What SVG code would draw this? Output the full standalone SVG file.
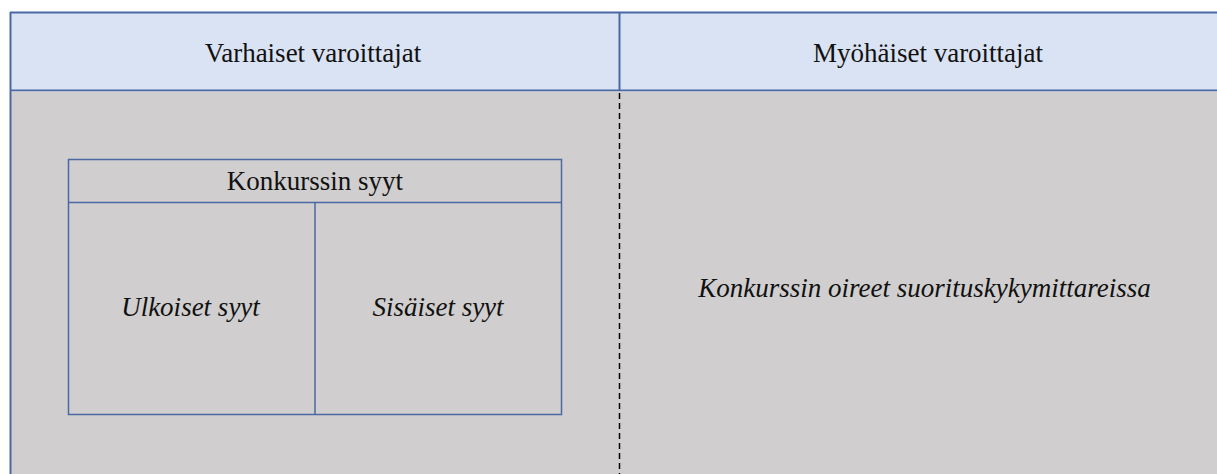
<svg xmlns="http://www.w3.org/2000/svg" width="1217" height="474" viewBox="0 0 1217 474">
<style>
.ln{stroke:#4a69a3;stroke-width:1.5;fill:none}
.t{font-family:"Liberation Serif","Times New Roman",serif;font-size:27px;fill:#111;text-anchor:middle}
.i{font-style:italic}
</style>
<rect x="0" y="0" width="1217" height="474" fill="#ffffff"/>
<g id="header">
<rect x="10" y="12" width="1210" height="78.5" fill="#dae3f3"/>
<line class="ln" x1="10" y1="12.5" x2="1217" y2="12.5" style="stroke-width:2"/>
<line class="ln" x1="10" y1="90.5" x2="1217" y2="90.5" style="stroke-width:2"/>
<line class="ln" x1="619.5" y1="12" x2="619.5" y2="90" style="stroke-width:2"/>
<text class="t" x="313" y="62">Varhaiset varoittajat</text>
<text class="t" x="928" y="62">Myöhäiset varoittajat</text>
</g>
<g id="body">
<rect x="10" y="91.5" width="1210" height="383" fill="#d0cece"/>
<text class="t i" x="924.5" y="297">Konkurssin oireet suorituskykymittareissa</text>
</g>
<line class="ln" x1="10.5" y1="12" x2="10.5" y2="474" style="stroke-width:2"/>
<g id="connectors">
<line x1="619.5" y1="93" x2="619.5" y2="474" stroke="#000" stroke-width="1.5" stroke-dasharray="6,4"/>
</g>
<g id="konkurssin-syyt">
<rect class="ln" x="68.5" y="159.5" width="493" height="255"/>
<line class="ln" x1="68.5" y1="202.5" x2="561.5" y2="202.5"/>
<text class="t" x="315" y="190">Konkurssin syyt</text>
</g>
<g id="ulkoiset">
<line class="ln" x1="315" y1="202.5" x2="315" y2="414.5"/>
<text class="t i" x="190.5" y="316">Ulkoiset syyt</text>
</g>
<g id="sisaiset">
<text class="t i" x="438" y="316">Sisäiset syyt</text>
</g>
</svg>
